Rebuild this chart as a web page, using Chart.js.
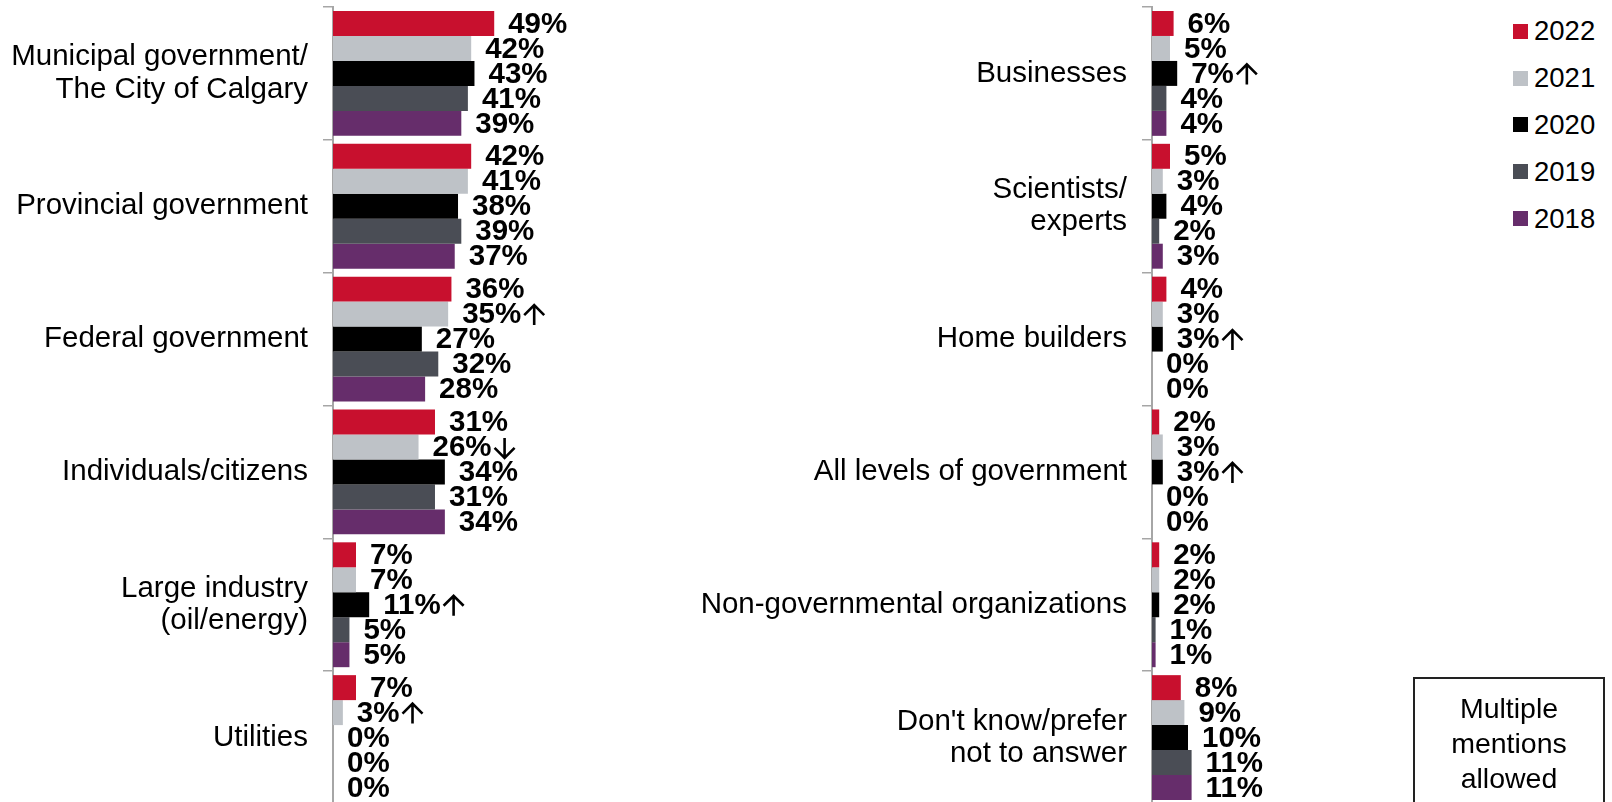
<!DOCTYPE html>
<html>
<head>
<meta charset="utf-8">
<script src="https://cdn.jsdelivr.net/npm/chart.js@4.4.1/dist/chart.umd.min.js"></script>
<style>
  html, body { margin:0; padding:0; background:#fff; width:1612px; height:802px; overflow:hidden; font-family:"Liberation Sans", Arial, sans-serif; }
  #leftWrap  { position:absolute; left:0; top:0; width:662px; height:806px; }
  #rightWrap { position:absolute; left:680px; top:0; width:832px; height:806px; }
  #legend { position:absolute; left:1513px; top:8px; font-size:27.5px; color:#000; }
  #legend .item { height:46.8px; display:flex; align-items:center; }
  #legend .sw { width:15px; height:15px; margin-right:6px; }
  #note { position:absolute; left:1413px; top:677px; width:192px; height:140px; border:2px solid #222;
          text-align:center; font-size:28.5px; line-height:35px; padding-top:12px; box-sizing:border-box; }
</style>
</head>
<body>
<div id="leftWrap"><canvas id="leftChart"></canvas></div>
<div id="rightWrap"><canvas id="rightChart"></canvas></div>
<div id="legend"></div>
<div id="note">Multiple<br>mentions<br>allowed</div>
<script>
// series
const years  = ['2022', '2021', '2020', '2019', '2018'];
const colors = ['#C8102E', '#BEC2C7', '#000000', '#4A4D55', '#662D6B'];

// left panel
const leftCats = [['Municipal government/', 'The City of Calgary'], 'Provincial government', 'Federal government',
                  'Individuals/citizens', ['Large industry', '(oil/energy)'], 'Utilities'];
const left2022 = [49, 42, 36, 31, 7, 7];
const left2021 = [42, 41, 35, 26, 7, 3];
const left2020 = [43, 38, 27, 34, 11, 0];
const left2019 = [41, 39, 32, 31, 5, 0];
const left2018 = [39, 37, 28, 34, 5, 0];
// significance arrows (per year, per category): 1 = up, -1 = down
const leftSig = [
  [0, 0, 0, 0, 0, 0],
  [0, 0, 1, -1, 0, 1],
  [0, 0, 0, 0, 1, 0],
  [0, 0, 0, 0, 0, 0],
  [0, 0, 0, 0, 0, 0]
];

// right panel
const rightCats = ['Businesses', ['Scientists/', 'experts'], 'Home builders', 'All levels of government',
                   'Non-governmental organizations', ["Don't know/prefer", 'not to answer']];
const right2022 = [6, 5, 4, 2, 2, 8];
const right2021 = [5, 3, 3, 3, 2, 9];
const right2020 = [7, 4, 3, 3, 2, 10];
const right2019 = [4, 2, 0, 0, 1, 11];
const right2018 = [4, 3, 0, 0, 1, 11];
const rightSig = [
  [0, 0, 0, 0, 0, 0],
  [0, 0, 0, 0, 0, 0],
  [1, 0, 1, 1, 0, 0],
  [0, 0, 0, 0, 0, 0],
  [0, 0, 0, 0, 0, 0]
];

const FONT = '"Liberation Sans", Arial, sans-serif';
Chart.defaults.font.family = FONT;
Chart.defaults.color = '#000';

function drawArrow(ctx, cx, cy, dir) {
  const h = 10;              // half height
  const tipY = cy - dir * h, endY = cy + dir * h;
  ctx.beginPath();
  ctx.moveTo(cx, endY);
  ctx.lineTo(cx, tipY);
  ctx.moveTo(cx - 10, tipY + dir * 10);
  ctx.lineTo(cx, tipY);
  ctx.lineTo(cx + 10, tipY + dir * 10);
  ctx.stroke();
}

const valueLabels = {
  id: 'valueLabels',
  afterDatasetsDraw(chart, args, opts) {
    const ctx = chart.ctx;
    ctx.save();
    ctx.textBaseline = 'middle';
    ctx.textAlign = 'left';
    ctx.fillStyle = '#000';
    ctx.strokeStyle = '#000';
    ctx.lineWidth = 2.6;
    ctx.font = 'bold 29.5px ' + FONT;
    chart.data.datasets.forEach((ds, di) => {
      chart.getDatasetMeta(di).data.forEach((bar, i) => {
        const txt = ds.data[i] + '%';
        const x = bar.x + 14;
        const y = bar.y + 1;
        ctx.fillText(txt, x, y);
        const dir = opts.sig[di][i];
        if (dir) {
          const w = ctx.measureText(txt).width;
          drawArrow(ctx, x + w + 13, y, dir);
        }
      });
    });
    ctx.restore();
  }
};

function makePanel(id, cats, series, sig, axisWidth) {
  new Chart(document.getElementById(id), {
    type: 'bar',
    data: {
      labels: cats,
      datasets: series.map((d, i) => ({
        label: years[i], data: d, backgroundColor: colors[i],
        barPercentage: 1, categoryPercentage: 0.94
      }))
    },
    options: {
      indexAxis: 'y',
      responsive: true,
      maintainAspectRatio: false,
      animation: false,
      layout: { padding: { top: 7, bottom: 2, left: 0, right: 0 } },
      plugins: { legend: { display: false }, tooltip: { enabled: false }, valueLabels: { sig } },
      scales: {
        x: { display: false, min: 0, max: 100 },
        y: {
          afterFit: s => { s.width = axisWidth; s.paddingTop = 0; s.paddingBottom = 0; },
          border: { display: true, color: '#A6A6A6', width: 2 },
          grid: { display: true, drawOnChartArea: false, drawTicks: true, tickLength: 10, color: '#A6A6A6', lineWidth: 1.5 },
          ticks: { color: '#000', padding: 15, font: { size: 29.5, lineHeight: 1.09 } }
        }
      }
    },
    plugins: [valueLabels]
  });
}

makePanel('leftChart', leftCats, [left2022, left2021, left2020, left2019, left2018], leftSig, 333);
makePanel('rightChart', rightCats, [right2022, right2021, right2020, right2019, right2018], rightSig, 472);

// legend
const legend = document.getElementById('legend');
years.forEach((y, i) => {
  const item = document.createElement('div');
  item.className = 'item';
  item.innerHTML = '<span class="sw" style="background:' + colors[i] + '"></span>' + y;
  legend.appendChild(item);
});
</script>
</body>
</html>
